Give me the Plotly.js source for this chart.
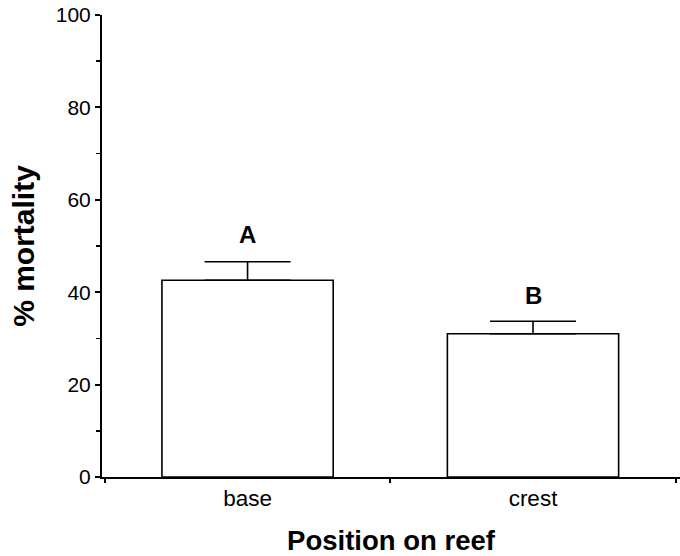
<!DOCTYPE html>
<html>
<head>
<meta charset="utf-8">
<script src="https://cdn.plot.ly/plotly-3.0.1.min.js"></script>
<style>html,body{margin:0;padding:0;background:#fff;}#chart{width:680px;height:556px;}</style>
</head>
<body>
<div id="chart"></div>
<script>
const categories = ["base", "crest"];
const mortality = [42.6, 31.0];
const seUpper = [4.0, 2.7];
const seLower = [0, 0];
const letters = ["A", "B"];
const letterY = [52.5, 39.2];

const font = "Liberation Sans, Arial, Helvetica, sans-serif";

const trace = {
  type: "bar",
  x: categories,
  y: mortality,
  width: 0.6,
  marker: {color: "#ffffff", line: {color: "#000000", width: 1.6}},
  error_y: {type: "data", symmetric: false, array: seUpper, arrayminus: seLower,
            color: "#000000", thickness: 1.6, width: 43},
  hoverinfo: "skip"
};

const annotations = categories.map((c, i) => ({
  x: c, y: letterY[i], xref: "x", yref: "y", text: "<b>" + letters[i] + "</b>", showarrow: false,
  font: {family: font, size: 24, color: "#000"}, yanchor: "middle"
}));

const layout = {
  width: 680, height: 556,
  margin: {l: 102, r: 0, t: 15, b: 79},
  paper_bgcolor: "#fff", plot_bgcolor: "#fff",
  showlegend: false,
  font: {family: font, color: "#000"},
  xaxis: {
    type: "category", range: [-0.51, 1.515],
    showline: true, linecolor: "#000", linewidth: 2,
    ticks: "outside", tickson: "boundaries", ticklen: 4, tickwidth: 2, tickcolor: "#000",
    showgrid: false, zeroline: false,
    tickfont: {family: font, size: 22.5, color: "#000"},
    title: {text: "<b>Position on reef</b>", font: {family: font, size: 27.5, color: "#000"}, standoff: 21}
  },
  yaxis: {
    range: [0, 100], dtick: 20, tick0: 0,
    showline: true, linecolor: "#000", linewidth: 2,
    ticks: "outside", ticklen: 5, tickwidth: 2, tickcolor: "#000",
    minor: {dtick: 10, ticks: "outside", ticklen: 4, tickwidth: 1.5, tickcolor: "#000", showgrid: false},
    showgrid: false, zeroline: false,
    tickfont: {family: font, size: 21, color: "#000"},
    title: {text: "<b>% mortality</b>", font: {family: font, size: 30, color: "#000"}, standoff: 12}
  },
  annotations: annotations
};

Plotly.newPlot("chart", [trace], layout, {displayModeBar: false, staticPlot: true});
</script>
</body>
</html>
